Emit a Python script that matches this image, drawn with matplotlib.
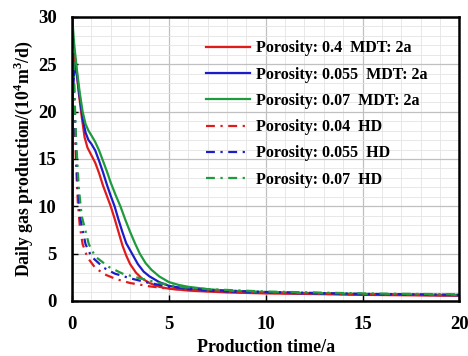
import matplotlib
matplotlib.use("Agg")
import matplotlib.pyplot as plt
from matplotlib.ticker import MultipleLocator

# MDT (solid) curves
t_mdt_red = [0, 0.04, 0.12, 0.2, 0.35, 0.5, 0.65, 0.8, 1.0, 1.2, 1.4, 1.6, 1.8, 2.0, 2.2, 2.4, 2.6,
             2.8, 3.0, 3.3, 3.6, 4.0, 4.5, 5, 6, 7, 8, 10, 12, 15, 20]
v_mdt_red = [0, 23, 26.1, 25, 22, 19.5, 17.3, 16.2, 15.4, 14.6, 13.5, 12.2, 11.1, 10.0, 8.7, 7.3, 5.9,
             4.8, 3.9, 3.0, 2.4, 1.9, 1.5, 1.3, 1.1, 1.0, 0.9, 0.8, 0.75, 0.65, 0.55]
t_mdt_blue = [0, 0.04, 0.15, 0.25, 0.4, 0.55, 0.7, 0.85, 1.0, 1.2, 1.4, 1.6, 1.8, 2.0, 2.2, 2.4, 2.6,
              2.8, 3.1, 3.4, 3.7, 4.0, 4.5, 5, 6, 7, 8, 10, 12, 15, 20]
v_mdt_blue = [0, 22, 25.0, 24, 21.5, 19.3, 17.8, 17.0, 16.6, 15.9, 14.8, 13.6, 12.3, 11.1, 10.0, 8.6, 7.3,
              6.1, 5.0, 3.9, 3.1, 2.6, 2.0, 1.6, 1.25, 1.1, 1.0, 0.9, 0.8, 0.7, 0.6]
t_mdt_green = [0, 0.01, 0.12, 0.25, 0.4, 0.55, 0.7, 0.85, 1.0, 1.2, 1.4, 1.6, 1.8, 2.0, 2.25, 2.5, 2.75,
               3.0, 3.25, 3.5, 3.8, 4.1, 4.5, 5, 5.5, 6, 7, 8, 10, 12, 15, 20]
v_mdt_green = [0, 30, 27.0, 24.5, 22, 20, 18.7, 18.0, 17.5, 16.8, 15.9, 14.8, 13.7, 12.5, 11.2, 10.0, 8.6,
               7.3, 6.1, 5.0, 4.0, 3.3, 2.6, 2.0, 1.7, 1.5, 1.25, 1.1, 0.95, 0.85, 0.75, 0.65]

# HD (dash-dot) curves
t_hd_red = [0.02, 0.1, 0.2, 0.3, 0.4, 0.55, 0.8, 1.2, 1.7, 2.3, 3.0, 4.0, 5, 7, 10, 15, 20]
v_hd_red = [30, 22, 15, 10.5, 8, 6, 4.6, 3.5, 2.8, 2.3, 1.9, 1.55, 1.3, 1.05, 0.85, 0.7, 0.6]
t_hd_blue = [0.02, 0.1, 0.2, 0.3, 0.45, 0.7, 1.0, 1.65, 2.2, 3.0, 4.0, 5, 7, 10, 15, 20]
v_hd_blue = [30, 23, 16.5, 12, 8.5, 6, 4.7, 3.5, 2.9, 2.4, 1.9, 1.5, 1.15, 0.95, 0.75, 0.65]
t_hd_green = [0.02, 0.1, 0.2, 0.35, 0.5, 0.87, 1.2, 1.9, 2.6, 3.5, 4.5, 5.5, 7, 10, 15, 20]
v_hd_green = [30, 24, 17.5, 12, 9, 6, 4.7, 3.6, 2.9, 2.4, 1.9, 1.5, 1.25, 1.0, 0.8, 0.7]

labels = ["Porosity: 0.4  MDT: 2a", "Porosity: 0.055  MDT: 2a", "Porosity: 0.07  MDT: 2a",
          "Porosity: 0.04  HD", "Porosity: 0.055  HD", "Porosity: 0.07  HD"]

RED, BLUE, GREEN = "#e01b1b", "#1c1cc8", "#1f9a3c"

plt.rcParams['font.family'] = ['Liberation Serif']
plt.rcParams['font.weight'] = 'bold'
plt.rcParams['mathtext.fontset'] = 'custom'
plt.rcParams['mathtext.rm'] = 'Liberation Serif:bold'
plt.rcParams['mathtext.bf'] = 'Liberation Serif:bold'

fig = plt.figure(figsize=(4.68, 3.56), dpi=100)
ax = fig.add_axes([0.1538, 0.1545, 0.828, 0.7978])

lw = 1.6
ax.plot(t_mdt_red, v_mdt_red, color=RED, lw=lw, label=labels[0])
ax.plot(t_mdt_blue, v_mdt_blue, color=BLUE, lw=lw, label=labels[1])
ax.plot(t_mdt_green, v_mdt_green, color=GREEN, lw=lw, label=labels[2])
dash = (0, (4, 2.5, 1, 2.5))
ax.plot(t_hd_red, v_hd_red, color=RED, lw=lw, ls=dash, label=labels[3])
ax.plot(t_hd_blue, v_hd_blue, color=BLUE, lw=lw, ls=dash, label=labels[4])
ax.plot(t_hd_green, v_hd_green, color=GREEN, lw=lw, ls=dash, label=labels[5])

ax.set_xlim(0, 20)
ax.set_ylim(0, 30)
ax.xaxis.set_major_locator(MultipleLocator(5))
ax.yaxis.set_major_locator(MultipleLocator(5))
ax.xaxis.set_minor_locator(MultipleLocator(1))
ax.yaxis.set_minor_locator(MultipleLocator(1))
ax.grid(which='major', color='#c0c0c0', lw=0.9)
ax.grid(which='minor', color='#e4e4e4', lw=0.6)
ax.set_axisbelow(True)
ax.tick_params(which='major', direction='in', length=4, width=1, labelsize=13.5)
ax.tick_params(axis='x', which='major', pad=11)
ax.tick_params(axis='y', which='major', pad=11)
ax.tick_params(which='minor', length=0)
for s in ax.spines.values():
    s.set_linewidth(1.8)
for lab in ax.get_xticklabels() + ax.get_yticklabels():
    lab.set_fontweight('bold')

ax.set_xlabel("Production time/a", fontsize=13, fontweight='bold', labelpad=4)
ax.set_ylabel("Daily gas production/(10$^{4}$m$^{3}$/d)", fontsize=12.8, fontweight='bold', labelpad=2)

leg = ax.legend(loc='upper left', bbox_to_anchor=(0.31, 0.968), frameon=False,
                prop={'weight': 'bold', 'size': 11.5}, handlelength=2.7,
                labelspacing=0.64, handletextpad=0.4)

fig.savefig("out.png", dpi=100)
